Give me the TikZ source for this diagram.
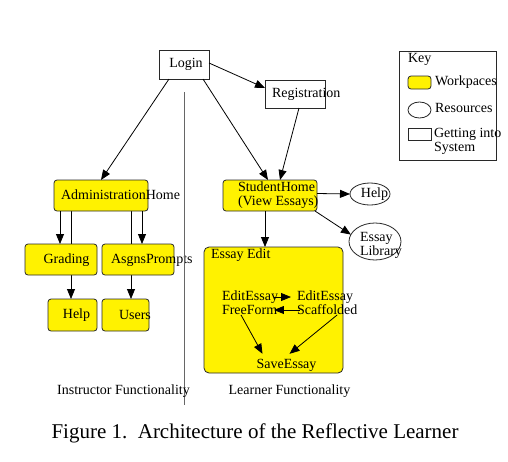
\documentclass[tikz,border=0pt]{standalone}
\usepackage{fontspec}
\setmainfont{Liberation Serif}
\usetikzlibrary{arrows.meta,shapes.geometric}
\definecolor{wsyellow}{RGB}{255,242,0}
\definecolor{bord}{RGB}{40,40,40}
\pgfdeclarelayer{bg}
\pgfsetlayers{bg,main}
\begin{document}
\begin{tikzpicture}[x=1pt,y=-1pt,
  every node/.style={inner sep=0pt,outer sep=0pt,font=\fontsize{14}{14}\selectfont},
  ws/.style={draw=bord,fill=wsyellow,rounded corners=3pt,line width=0.8pt},
  gbox/.style={draw=bord,fill=white,line width=0.8pt},
  res/.style={draw=bord,fill=white,ellipse,line width=0.8pt},
  txt/.style={anchor=west,align=left},
  arr/.style={-{Triangle[length=10pt,width=8pt]},line width=0.8pt,draw=black}]
\useasboundingbox (0,0) rectangle (508,461);
% boxes
\node[gbox,minimum width=50pt,minimum height=29pt] (login) at (184,64.5) {};
\node (logint) at (186,64) {Login};
\node[gbox,minimum width=60pt,minimum height=28pt] (reg) at (295,94) {};
\node[txt] (regt) at (272,94) {Registration};
\node[ws,minimum width=94pt,minimum height=31pt] (admin) at (101,195.5) {};
\node[txt] (admint) at (61,195) {AdministrationHome};
\node[ws,minimum width=94pt,minimum height=31pt] (student) at (270,195.5) {};
\node[txt] (studentt) at (238,195.5) {StudentHome\\(View Essays)};
\node[res,minimum width=40pt,minimum height=22pt] (help2) at (370,194) {};
\node (help2t) at (374.5,194) {Help};
\node[res,minimum width=52pt,minimum height=37pt] (lib) at (375,241.5) {};
\node[txt] (libt) at (360,245.5) {Essay\\Library};
\node[ws,minimum width=72pt,minimum height=31pt] (grading) at (61,259.5) {};
\node (gradingt) at (66.5,260) {Grading};
\node[ws,minimum width=72pt,minimum height=31pt] (asgns) at (138,259.5) {};
\node[txt] (asgnst) at (111,260) {AsgnsPrompts};
\node[ws,minimum width=49pt,minimum height=32pt] (help1) at (72.5,315) {};
\node (help1t) at (76.5,315) {Help};
\node[ws,minimum width=47pt,minimum height=32pt] (users) at (125.5,315) {};
\node[txt] (userst) at (119,315) {Users};
% essay edit
\node[ws,rounded corners=5pt,minimum width=139pt,minimum height=126pt] (edit) at (273.5,310) {};
\node[txt] (editt) at (211,255) {Essay Edit};
\node[txt] (ff) at (222,303) {EditEssay\\FreeForm};
\node[txt] (sc) at (297,303) {EditEssay\\Scaffolded};
\node (save) at (286.5,365) {SaveEssay};
% key
\node[draw=bord,line width=0.8pt,minimum width=97pt,minimum height=109pt] (key) at (447.5,105.5) {};
\node[txt] (keyt) at (408,59) {Key};
\node[ws,minimum width=23pt,minimum height=13pt] (kws) at (419.5,82.5) {};
\node[txt] (kwst) at (435,82) {Workpaces};
\node[res,minimum width=23pt,minimum height=16pt] (kres) at (419.5,110) {};
\node[txt] (krest) at (435,108) {Resources};
\node[gbox,minimum width=23pt,minimum height=12pt] (kgb) at (419.5,134) {};
\node[txt] (kgbt) at (434,141) {Getting into\\System};
% divider and captions
\draw[draw=black!60,line width=0.9pt] (184,92) -- (184,405);
\node (instr) at (123.5,391) {Instructor Functionality};
\node (learn) at (289.5,391) {Learner Functionality};
\node[font=\fontsize{21}{22}\selectfont] (cap) at (255,433) {Figure 1.\ \ Architecture of the Reflective Learner};
% connectors
\draw[arr] ([xshift=-15pt]login.south) -- (admin.north);
\draw[arr] ([xshift=19pt]login.south) -- ([xshift=-2pt]student.north);
\draw[arr] ([yshift=1.5pt]login.east) -- ([yshift=6pt]reg.west);
\draw[arr] ([xshift=4pt]reg.south) -- ([xshift=10pt]student.north);
\draw[arr] ([yshift=2pt]student.east) -- (help2.west);
\draw[arr] ([xshift=-2pt]student.south east) -- (lib.164);
\draw[arr] ([xshift=-5pt]student.south) -- ([xshift=-8.5pt]edit.north);
\draw[arr] ([xshift=-41pt]admin.south) -- ([xshift=-1pt]grading.north);
\draw[arr] ([xshift=41pt]admin.south) -- ([xshift=4pt]asgns.north);
\begin{pgfonlayer}{bg}
\draw[arr] ([xshift=-30pt]admin.south) -- ([xshift=-1.5pt]help1.north);
\draw[arr] ([xshift=30pt]admin.south) -- ([xshift=5.5pt]users.north);
\end{pgfonlayer}
\draw[arr] ([xshift=-4pt,yshift=6pt]ff.east) -- ([xshift=-6pt,yshift=6pt]sc.west);
\draw[arr] ([xshift=3pt,yshift=-7pt]sc.west) -- ([xshift=-4pt,yshift=-7pt]ff.east);
\draw[arr] ([xshift=-9pt]ff.south) -- ([xshift=-24pt,yshift=5pt]save.north);
\draw[arr] ([xshift=10pt]sc.south) -- ([xshift=3pt,yshift=5pt]save.north);
\end{tikzpicture}
\end{document}
